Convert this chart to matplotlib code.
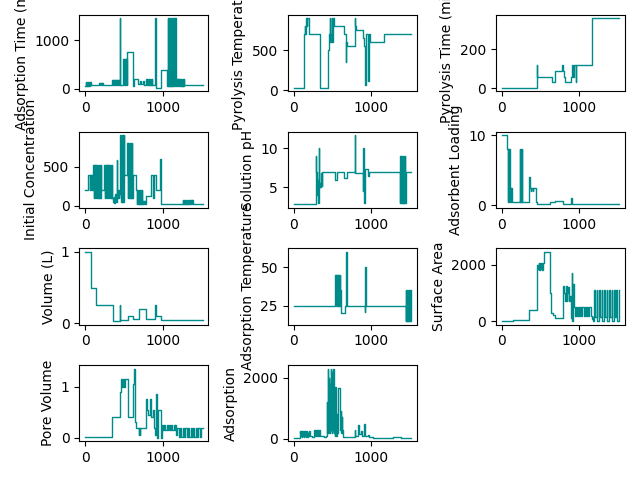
import numpy as np
import matplotlib
matplotlib.use("Agg")
import matplotlib.pyplot as plt

# (row index, value) breakpoints, drawn as steps
ads_time = [(0,60),(6,130),(12,60),(18,130),(24,60),(30,130),(36,60),(42,130),(48,60),(54,130),(60,60),(66,130),(72,80),
            (180,110),(186,80),(192,110),(198,80),(204,110),(210,80),(216,110),(222,80),(228,110),(234,80),
            (350,180),(356,80),(362,180),(368,80),(374,180),(380,80),(386,180),(392,80),(398,180),(404,80),(410,180),(416,80),(422,180),(428,80),(434,180),(440,80),
            (446,1450),(452,80),
            (490,620),(496,80),(502,620),(508,80),(514,620),(520,80),(526,620),(532,80),(538,750),
            (612,50),(630,200),(680,100),(700,150),(720,100),(740,150),(760,80),
            (784,200),(790,80),(796,200),(802,80),(808,200),(814,80),(820,200),(826,80),(832,200),(838,80),(844,200),(850,80),(856,200),(862,80),
            (904,1450),(910,20),(978,380),(1058,50),
            (1064,1450),(1070,50),(1076,1450),(1082,50),(1088,1450),(1094,50),(1100,1450),(1106,50),(1112,1450),(1118,50),(1124,1450),(1130,50),(1136,1450),(1142,50),(1148,1450),(1154,50),(1160,1450),(1166,50),
            (1172,200),(1178,50),(1184,200),(1190,50),(1196,200),(1202,50),(1208,200),(1214,50),(1220,200),(1226,50),(1232,200),(1238,50),(1244,200),(1250,50),(1256,200),(1262,50),(1268,200),
            (1274,80),(1510,80)]

pyro_temp = [(0,30),(129,500),(135,700),(145,800),(152,700),(160,900),(170,800),(178,900),(197,700),(335,30),
             (442,500),(450,600),(458,700),(466,900),(474,600),(482,700),(490,900),(500,600),(506,900),(516,800),
             (644,700),(672,350),(680,600),(690,550),(785,900),(795,800),(807,750),(900,650),(912,550),(925,60),
             (932,700),(960,120),(968,700),(978,600),(1163,700),(1510,700)]

pyro_time = [(0,3),(453,120),(461,60),(660,30),(690,90),(790,120),(797,90),(805,60),(820,30),(905,60),(915,120),
             (925,60),(935,120),(965,30),(972,120),(1177,360),(1530,360)]

init_conc = [(0,200),(30,400),(60,200),(66,400),(72,200),(78,400),(84,200),(90,400),(96,200),
             (103,520),(109,100),(115,520),(121,100),(127,520),(133,100),(139,520),(145,100),(151,520),(157,100),(163,520),(169,100),(175,520),(181,100),(187,520),(193,100),(199,520),
             (203,200),
             (246,520),(252,100),(258,520),(264,100),(270,520),(276,100),(282,520),(288,100),(294,520),(300,100),(306,520),(312,100),(318,520),(324,100),(330,520),(336,100),(342,520),(348,100),
             (353,50),(365,120),(375,40),(385,150),(395,50),(405,580),(412,100),(420,200),(430,100),(440,150),
             (448,900),(454,50),(460,900),(466,50),(472,900),(478,50),(484,900),(490,50),(496,900),
             (504,400),(539,800),(545,100),(551,800),(557,100),(563,800),(569,100),(575,800),(581,100),(587,800),(593,100),(599,800),(605,100),
             (612,400),(655,200),(661,30),(667,200),(673,30),(679,200),(685,30),(691,200),(697,30),(703,200),(709,30),(715,200),(721,30),(727,200),(733,30),
             (745,60),(751,20),(757,60),(763,20),(769,60),(775,20),(784,130),(849,400),(875,100),(882,400),(905,200),
             (965,600),(975,20),(1258,80),(1264,20),(1270,80),(1276,20),(1282,80),(1288,20),(1294,80),(1300,20),(1306,80),(1312,20),(1318,80),(1324,20),(1330,80),(1336,20),(1342,80),(1348,20),(1354,80),(1360,20),(1366,80),(1372,20),(1378,80),
             (1388,20),(1510,20)]

solution_ph = [(0,2.8),(283,9),(290,7),(296,6),(305,4),(310,6),(318,3),(322,10.1),(328,5.5),(335,5),(340,5.3),(345,5.1),
               (350,6.8),(360,5.2),(370,7),(528,6),(558,7),(644,6.2),(687,7),(785,11.7),(790,6.9),(892,4.5),(900,10),
               (910,3),(920,7.3),(962,6.5),(972,7),
               (1365,3),(1371,9),(1377,3),(1383,9),(1389,3),(1395,9),(1401,3),(1407,9),(1413,3),(1419,9),(1425,3),(1431,9),(1437,3),
               (1442,7),(1510,7)]

ads_loading = [(0,10),(73,8),(80,0.5),(86,8),(92,0.5),(98,8),(104,0.5),(110,2.5),(116,0.5),(122,2.5),(129,0.5),
               (237,8),(243,0.5),(249,8),(255,0.5),(261,8),(267,0.5),(358,4),(365,2.5),(375,2),(381,2.5),(400,2),
               (410,2.5),(444,0.5),(453,0.15),(625,0.5),(690,0.6),(797,0.15),(905,1.0),(915,0.1),(1530,0.1)]

volume = [(0,1),(73,0.5),(138,0.25),(353,0.03),(446,0.25),(452,0.05),(547,0.1),(612,0.06),(690,0.2),(784,0.06),
          (898,0.25),(906,0.1),(978,0.04),(1510,0.04)]

ads_temp = [(0,25),(536,45),(542,25),(548,45),(554,25),(560,45),(566,25),(572,45),(578,25),(584,45),(590,25),(596,45),
            (600,35),(606,25),(614,20),(657,25),(670,50),(678,60),(686,25),(914,21),(924,50),(930,25),
            (1442,15),(1448,35),(1454,15),(1460,35),(1466,15),(1472,35),(1478,15),(1484,35),(1490,15),(1496,35),(1502,15),(1510,35)]

surface_area = [(0,20),(142,40),(358,380),(453,850),(458,1850),(465,2000),(475,1850),(482,2050),(490,1800),(500,2050),
                (510,1850),(520,2050),(530,1800),(540,2050),(547,2450),(625,2100),(632,1000),(647,300),(670,200),
                (690,100),(700,120),(797,1250),(808,1000),(820,700),(835,1250),(845,700),(855,1000),(865,1200),
                (875,700),(890,900),(900,100),(910,1700),(918,0),(928,1300),(938,500),
                (948,180),(962,500),(977,180),(992,500),(1007,180),(1022,500),(1037,180),(1052,500),(1067,180),
                (1082,500),(1097,180),(1112,500),(1127,180),(1142,500),(1157,180),
                (1170,60),(1185,150),(1195,0),(1202,150),
                (1207,1100),(1214,150),(1239,1100),(1246,0),(1271,1100),(1278,150),(1303,1100),(1310,0),(1335,1100),
                (1342,150),(1367,1100),(1374,0),(1399,1100),(1406,150),(1431,1100),(1438,0),(1463,1100),(1470,150),
                (1495,1100),(1502,0),(1524,1100),(1530,1100)]

pore_volume = [(0,0.02),(345,0.4),(448,0.9),(461,1.15),(467,1.0),(473,1.15),(479,1.0),(485,1.15),(491,1.05),(497,1.15),
               (503,1.0),(509,1.15),(547,0.4),(612,1.05),(621,1.35),(634,0.3),(655,0.2),(690,0.05),(696,0.2),(702,0.05),
               (711,0.2),(784,0.75),(797,0.55),(810,0.45),(836,0.75),(850,0.4),(870,0.55),(880,0.2),(895,0.05),
               (914,0.85),(922,0.0),(935,0.55),(978,0.0),
               (987,0.25),(1002,0.15),(1017,0.25),(1032,0.15),(1047,0.25),(1062,0.15),(1077,0.25),(1092,0.15),
               (1107,0.25),(1122,0.15),(1137,0.25),(1152,0.15),(1160,0.25),
               (1172,0.05),(1185,0.2),(1202,0.02),(1219,0.2),(1236,0.02),(1253,0.2),(1270,0.02),(1287,0.2),(1304,0.02),
               (1321,0.2),(1338,0.02),(1355,0.2),(1372,0.02),(1389,0.2),(1406,0.02),(1423,0.2),(1440,0.02),(1457,0.2),
               (1474,0.02),(1491,0.2),(1510,0.2)]

adsorption = [(0,30),(77,250),(83,50),(89,200),(95,80),(101,250),(107,60),(113,250),(119,80),(125,200),(131,60),(137,250),
              (143,80),(149,250),(155,60),(161,200),(167,80),(173,250),(179,60),(185,200),(191,80),(197,250),
              (206,80),(220,100),(235,60),
              (257,280),(263,100),(269,280),(275,100),(281,250),(287,100),(293,280),(299,100),(305,280),(311,100),(317,250),(323,100),(329,280),
              (335,80),(360,100),(390,60),(420,100),(429,1200),(435,200),(441,2300),(447,600),(453,2000),(459,200),
              (465,1800),(471,300),(477,2300),(483,400),(489,2200),(495,200),(501,1900),(507,300),(513,2300),(519,200),
              (525,1500),(528,100),(534,1700),(540,300),(546,1200),(552,100),(558,800),(564,200),(570,1650),(592,300),
              (598,1000),(604,300),(610,900),(616,200),(622,700),(628,300),(635,50),(785,300),(795,100),(835,450),
              (845,150),(870,250),(880,100),(912,480),(920,100),(960,120),(970,50),(1021,30),(1279,60),(1386,30),(1510,30)]

series = [ads_time, pyro_temp, pyro_time, init_conc, solution_ph, ads_loading,
          volume, ads_temp, surface_area, pore_volume, adsorption]
labels = ["Adsorption Time (min)", "Pyrolysis Temperature", "Pyrolysis Time (min)",
          "Initial Concentration", "Solution pH", "Adsorbent Loading",
          "Volume (L)", "Adsorption Temperature", "Surface Area",
          "Pore Volume", "Adsorption"]

fig, axes = plt.subplots(4, 3, figsize=(6.4, 4.8))
for ax, data, label in zip(axes.flat, series, labels):
    xs = [p[0] for p in data]
    ys = [p[1] for p in data]
    ax.plot(xs, ys, drawstyle="steps-post", color="darkcyan", linewidth=1)
    ax.set_ylabel(label)
axes[3, 2].axis("off")
plt.tight_layout()
plt.savefig("out.png", dpi=100)
